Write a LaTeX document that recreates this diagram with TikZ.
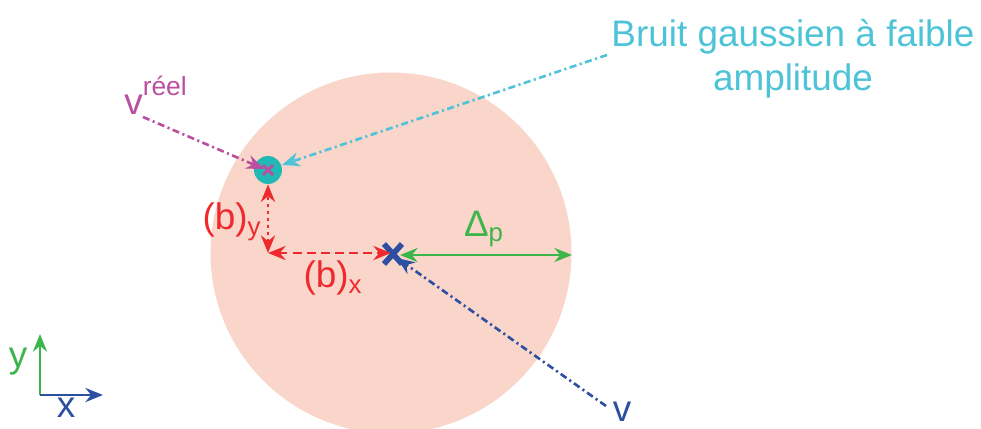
\documentclass[tikz,border=0pt]{standalone}
\usepackage{fontspec}
\setmainfont{Liberation Sans}
\usetikzlibrary{arrows.meta,positioning,calc}
\definecolor{disque}{HTML}{F9D5CA}
\definecolor{pointc}{HTML}{20B9B5}
\definecolor{vmag}{HTML}{BA4F9F}
\definecolor{bruitc}{HTML}{4DC3D8}
\definecolor{rouge}{HTML}{EE2A2E}
\definecolor{vert}{HTML}{3DB54A}
\definecolor{bleu}{HTML}{2D4FA2}
\tikzset{
  dashdot/.style={line width=1.5pt,dash pattern=on 4pt off 2pt on 1.2pt off 2pt},
  lbl/.style={inner sep=0pt,font=\fontsize{21}{25}\selectfont},
  fleche/.style={-{Stealth[length=10pt,width=8pt]}},
  fleches/.style={{Stealth[length=10pt,width=8pt]}-{Stealth[length=10pt,width=8pt]}}
}
\begin{document}
\begin{tikzpicture}[x=0.02cm,y=-0.02cm]
\useasboundingbox (0,0) rectangle (981,429);
\clip (0,0) rectangle (981,429);
% disque d'incertitude
\fill[disque] (391,253) circle (180.5);
\coordinate (bord) at (572,255);
% point reel et bruit
\node[circle,fill=pointc,minimum size=0.56cm,inner sep=0pt] (reel) at (268,170) {};
\draw[vmag,line width=1.8pt] (263,165)--(273,175) (263,175)--(273,165);
% estimation v
\coordinate (est) at (393,254);
\draw[bleu,line width=3.2pt] (384,244)--(402,264) (384,264)--(402,244);
\coordinate (coin) at (268,253);
% labels
\node[lbl,text=vmag,anchor=base west] (vrl) at (124,114) {v\raisebox{0.5em}{\fontsize{15}{15}\selectfont réel}};
\node[lbl,text=bruitc,align=center] (bruit) at (793,59) {Bruit gaussien à faible\\amplitude};
\node[lbl,text=bleu,anchor=base] (vl) at (622,421) {v};
\node[lbl,text=rouge] (by) at (232,222) {(b)\textsubscript{y}};
\node[lbl,text=rouge] (bx) at (333,278) {(b)\textsubscript{x}};
\node[lbl,text=vert] (dp) at (484,229) {Δ\textsubscript{p}};
% fleches pointillees
\coordinate (vrs) at (143,117);
\coordinate (brs) at (607,55);
\coordinate (vs) at (606,406);
\draw[vmag,dashdot,fleche] (vrs) -- (264,169);
\draw[bruitc,dashdot,fleche] (brs) -- (282,165);
\draw[bleu,dashdot,fleche] (vs) -- (397,258);
% composantes du biais
\draw[rouge,line width=1.7pt,dash pattern=on 2pt off 2pt,fleches] (coin) -- (reel.south);
\draw[rouge,line width=1.7pt,dash pattern=on 5pt off 3pt,fleches] (coin) -- (391,253);
\draw[vert,line width=1.7pt,fleches] (400,255) -- (bord);
% axes
\coordinate (o) at (40,395);
\draw[vert,line width=1.7pt,fleche] (o) -- (40,334);
\draw[bleu,line width=1.7pt,fleche] (o) -- (103,395);
\node[lbl,text=vert] (ay) at (18,362) {y};
\node[lbl,text=bleu] (ax) at (66,408) {x};
\end{tikzpicture}
\end{document}
